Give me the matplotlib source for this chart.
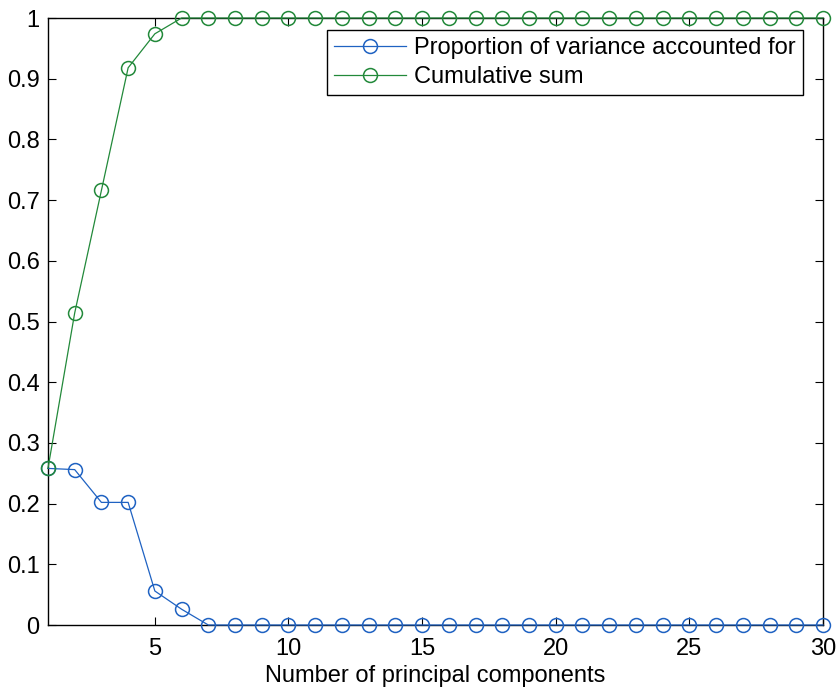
import numpy as np
import matplotlib
matplotlib.use("Agg")
import matplotlib.pyplot as plt

plt.rcParams['font.family'] = ['Liberation Sans', 'DejaVu Sans']

# Variance explained by each principal component, and its running total
components = list(range(1, 31))
proportion = [0.258, 0.256, 0.202, 0.202, 0.056, 0.026] + [0.0] * 24
cumulative = [0.258, 0.514, 0.716, 0.918, 0.974, 1.0] + [1.0] * 24

x_ticks = [5, 10, 15, 20, 25, 30]
y_ticks = [0, 0.1, 0.2, 0.3, 0.4, 0.5, 0.6, 0.7, 0.8, 0.9, 1]
y_tick_labels = ['0', '0.1', '0.2', '0.3', '0.4', '0.5', '0.6', '0.7', '0.8', '0.9', '1']

blue = '#1f62c2'
green = '#22893a'

fig = plt.figure(figsize=(8.37, 6.90), dpi=100)
ax = fig.add_axes([0.0573, 0.0942, 0.926, 0.8797])

ax.plot(components, proportion, color=blue, lw=0.9, marker='o', ms=10,
        mfc='none', mec=blue, mew=1.1, clip_on=False, zorder=3,
        label='Proportion of variance accounted for')
ax.plot(components, cumulative, color=green, lw=0.9, marker='o', ms=10,
        mfc='none', mec=green, mew=1.1, clip_on=False, zorder=3,
        label='Cumulative sum')

ax.set_xlim(1, 30)
ax.set_ylim(0, 1)
ax.set_xticks(x_ticks)
ax.set_yticks(y_ticks)
ax.set_yticklabels(y_tick_labels)
ax.tick_params(direction='in', top=True, right=True, length=6, width=0.8,
               labelsize=17, pad=6)
ax.tick_params(axis='x', pad=9)
for s in ax.spines.values():
    s.set_linewidth(1.0)

ax.set_xlabel('Number of principal components', fontsize=17, labelpad=4)

leg = ax.legend(loc='upper right', fontsize=17, handlelength=3.05,
                borderpad=0.3, labelspacing=0.3, handletextpad=0.35,
                borderaxespad=0, fancybox=False, framealpha=1,
                edgecolor='black', bbox_to_anchor=(0.974, 0.980))
leg.get_frame().set_linewidth(1.0)

fig.savefig('out.png', dpi=100)
